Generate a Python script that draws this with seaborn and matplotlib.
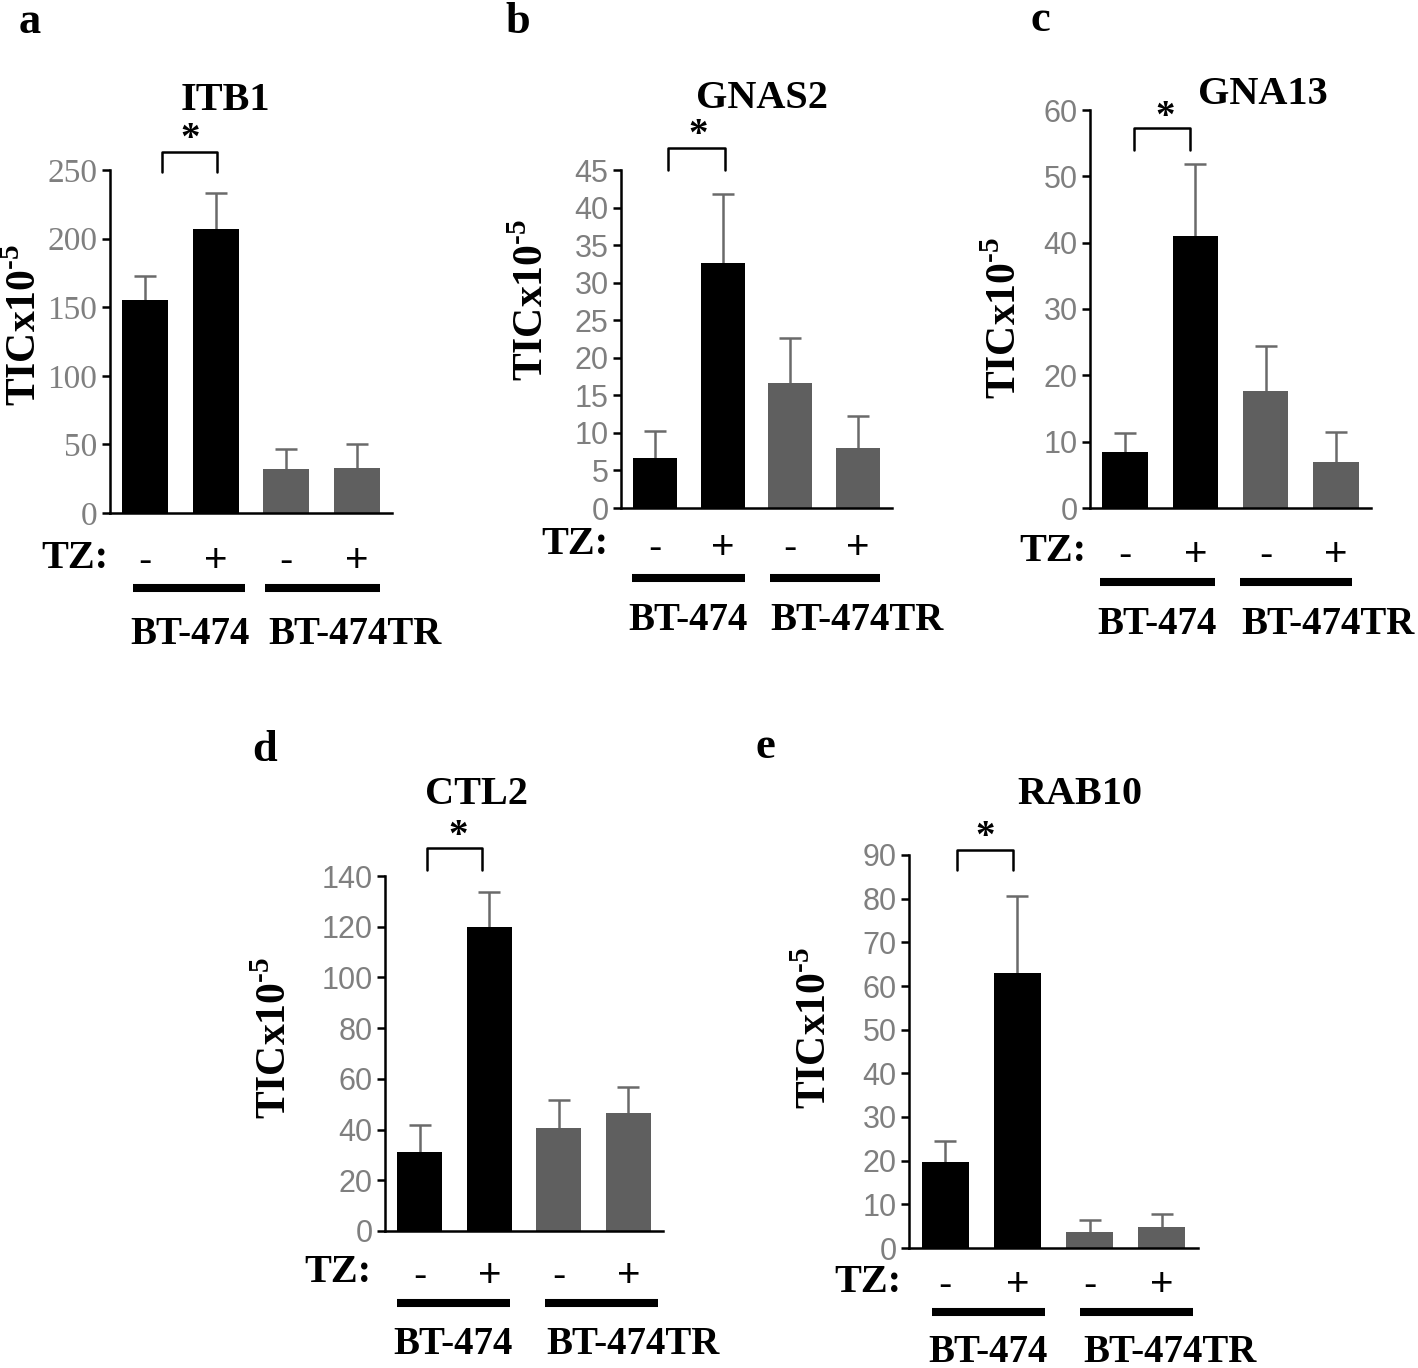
import numpy as np
import pandas as pd
import seaborn as sns
import matplotlib.pyplot as plt
from matplotlib.lines import Line2D

W, H = 1418, 1368

# data (mean and upper error bar length)
conditions = ['BT-474 -', 'BT-474 +', 'BT-474TR -', 'BT-474TR +']
tz_signs = ['-', '+', '-', '+']
cell_lines = ['BT-474', 'BT-474TR']

itb1_mean = [155, 207, 32, 33]
itb1_err = [18, 26, 15, 17]
itb1_ticks = [0, 50, 100, 150, 200, 250]

gnas2_mean = [6.7, 32.6, 16.6, 8.0]
gnas2_err = [3.5, 9.2, 6.0, 4.3]
gnas2_ticks = [0, 5, 10, 15, 20, 25, 30, 35, 40, 45]

gna13_mean = [8.4, 41.0, 17.6, 7.0]
gna13_err = [2.9, 10.9, 6.8, 4.5]
gna13_ticks = [0, 10, 20, 30, 40, 50, 60]

ctl2_mean = [31, 120, 40.5, 46.5]
ctl2_err = [11, 13.5, 11, 10.3]
ctl2_ticks = [0, 20, 40, 60, 80, 100, 120, 140]

rab10_mean = [19.7, 63, 3.7, 4.8]
rab10_err = [4.8, 17.5, 2.7, 2.9]
rab10_ticks = [0, 10, 20, 30, 40, 50, 60, 70, 80, 90]

bar_colors = ['#000000', '#000000', '#5f5f5f', '#5f5f5f']
err_color = '#6a6a6a'
tick_color = '#7f7f7f'

# layout in pixels
panels = [
    dict(letter='a', letter_xy=(30, 22), gene='ITB1', mean=itb1_mean, err=itb1_err, ticks=itb1_ticks,
         box=(110, 392, 513, 170), tickfont='Liberation Serif', ylab_xy=(25, 325), tz_xy=(75, 558), pad=21,
         line_y=588, lines=[(133, 245), (265, 380)], lab_y=635, labs=[190, 355],
         br=(162, 217, 152, 172), star=(190, 140), title_xy=(225, 100)),
    dict(letter='b', letter_xy=(518, 22), gene='GNAS2', mean=gnas2_mean, err=gnas2_err, ticks=gnas2_ticks,
         box=(621, 892, 508, 170), tickfont='Liberation Sans', ylab_xy=(532, 300), tz_xy=(575, 545), pad=15,
         line_y=578, lines=[(632, 745), (770, 880)], lab_y=620, labs=[688, 857],
         br=(668, 725, 148, 170), star=(698, 135), title_xy=(762, 98)),
    dict(letter='c', letter_xy=(1040, 20), gene='GNA13', mean=gna13_mean, err=gna13_err, ticks=gna13_ticks,
         box=(1090, 1371, 508, 110), tickfont='Liberation Sans', ylab_xy=(1005, 318), tz_xy=(1053, 552), pad=20,
         line_y=582, lines=[(1100, 1215), (1240, 1352)], lab_y=625, labs=[1157, 1328],
         br=(1134, 1190, 128, 150), star=(1165, 117), title_xy=(1263, 95)),
    dict(letter='d', letter_xy=(265, 750), gene='CTL2', mean=ctl2_mean, err=ctl2_err, ticks=ctl2_ticks,
         box=(385, 663, 1231, 876), tickfont='Liberation Sans', ylab_xy=(275, 1038), tz_xy=(338, 1273), pad=19,
         line_y=1303, lines=[(397, 510), (545, 658)], lab_y=1345, labs=[453, 633],
         br=(427, 482, 848, 870), star=(458, 836), title_xy=(477, 795)),
    dict(letter='e', letter_xy=(765, 747), gene='RAB10', mean=rab10_mean, err=rab10_err, ticks=rab10_ticks,
         box=(909, 1198, 1248, 855), tickfont='Liberation Sans', ylab_xy=(815, 1028), tz_xy=(868, 1283), pad=13,
         line_y=1312, lines=[(932, 1045), (1080, 1193)], lab_y=1352, labs=[988, 1170],
         br=(957, 1013, 850, 870), star=(985, 837), title_xy=(1080, 795)),
]

sns.set_style('ticks')
plt.rcParams['font.family'] = ['Liberation Serif', 'DejaVu Serif']
plt.rcParams['mathtext.fontset'] = 'custom'
plt.rcParams['mathtext.rm'] = 'Liberation Serif:bold'
plt.rcParams['mathtext.bf'] = 'Liberation Serif:bold'

fig = plt.figure(figsize=(W / 100, H / 100), dpi=100)


def fx(x):
    return x / W


def fy(y):
    return 1 - y / H


bold = dict(family='Liberation Serif', weight='bold', color='black')
ylabel_text = 'TICx10$^{\\text{-}5}$'

for p in panels:
    L, R, Y0, YT = p['box']
    ax = fig.add_axes([fx(L), fy(Y0), (R - L) / W, (Y0 - YT) / H])
    df = pd.DataFrame({'cond': conditions, 'tic': p['mean']})
    sns.barplot(data=df, x='cond', y='tic', hue='cond', palette=bar_colors, width=0.65,
                errorbar=None, legend=False, saturation=1, linewidth=0, ax=ax, zorder=2)
    eb = ax.errorbar(np.arange(len(conditions)), p['mean'], yerr=[np.zeros(len(conditions)), p['err']],
                     fmt='none', ecolor=err_color, elinewidth=1.8, capsize=8, capthick=1.8, zorder=1)
    eb[1][0].set_visible(False)  # no cap at the bar top
    ax.set_xlim(-0.5, 3.5)
    ax.set_ylim(0, p['ticks'][-1])
    ax.set_yticks(p['ticks'])
    ax.set_xticks(range(len(conditions)))
    ax.set_xticklabels(tz_signs)
    ax.set_xlabel('')
    ax.set_ylabel('')
    for s in ['top', 'right']:
        ax.spines[s].set_visible(False)
    for s in ['left', 'bottom']:
        ax.spines[s].set_linewidth(1.8)
        ax.spines[s].set_color('black')
        ax.spines[s].set_zorder(3)
    ax.tick_params(axis='y', length=6, width=1.8, color='black', labelcolor=tick_color,
                   labelsize=22 if p['tickfont'] != 'Liberation Serif' else 24, pad=3)
    ax.tick_params(axis='x', length=0, pad=p['pad'], labelsize=29, labelcolor='black')
    for t in ax.get_yticklabels():
        t.set_fontfamily(p['tickfont'])
    for t in ax.get_xticklabels():
        t.set_fontfamily('Liberation Sans')

    # panel letter, gene title, axis label
    fig.text(fx(p['letter_xy'][0]), fy(p['letter_xy'][1]), p['letter'], fontsize=32, ha='center', va='center', **bold)
    fig.text(fx(p['title_xy'][0]), fy(p['title_xy'][1]), p['gene'], fontsize=29, ha='center', va='center', **bold)
    fig.text(fx(p['ylab_xy'][0]), fy(p['ylab_xy'][1]), ylabel_text, fontsize=30, rotation=90,
             ha='center', va='center', **bold)
    fig.text(fx(p['tz_xy'][0]), fy(p['tz_xy'][1]), 'TZ:', fontsize=29, ha='center', va='center', **bold)

    # group underlines and cell line names
    for (x0, x1), cx, name in zip(p['lines'], p['labs'], cell_lines):
        fig.add_artist(Line2D([fx(x0), fx(x1)], [fy(p['line_y'])] * 2, lw=5.8, color='black',
                              solid_capstyle='butt'))
        fig.text(fx(cx), fy(p['lab_y']), name, fontsize=28, ha='center', va='center', **bold)

    # significance bracket
    bx0, bx1, btop, bbot = p['br']
    fig.add_artist(Line2D([fx(bx0), fx(bx0), fx(bx1), fx(bx1)], [fy(bbot), fy(btop), fy(btop), fy(bbot)],
                          lw=1.8, color='black'))
    fig.text(fx(p['star'][0]), fy(p['star'][1]), '*', fontsize=28, ha='center', va='center', **bold)

fig.savefig('out.png', dpi=100)
